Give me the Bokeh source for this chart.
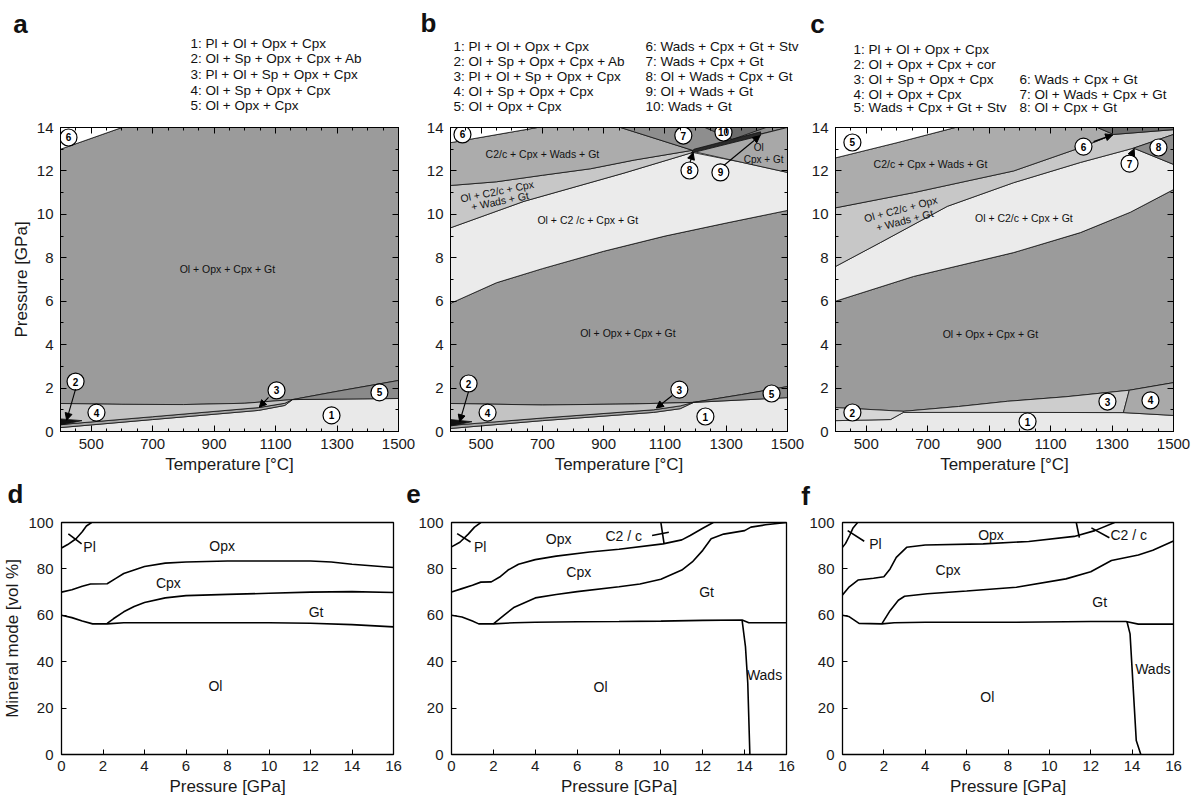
from bokeh.plotting import figure
from bokeh.layouts import column, row
from bokeh.models import Arrow, NormalHead, FixedTicker, LinearAxis, CustomJSTickFormatter, Range1d
from bokeh.embed import file_html
from bokeh.resources import INLINE
from bokeh.core.properties import value

FONT = "Liberation Sans"

# ---------------- tick definitions ----------------
T_TICKS = [500, 700, 900, 1100, 1300, 1500]
T_MINOR = list(range(400, 1501, 50))
P_TICKS = [0, 2, 4, 6, 8, 10, 12, 14]
P_MINOR = list(range(0, 15))
GPA_TICKS = [0, 2, 4, 6, 8, 10, 12, 14, 16]
VOL_TICKS = [0, 20, 40, 60, 80, 100]

# ---------------- panel a boundaries (T [°C], P [GPa]) ----------------
A_L1_T = [400, 700, 1044, 1130, 1155, 1500]
A_L1_P = [0.18, 0.55, 0.97, 1.2, 1.47, 1.52]
A_L3_T = [400, 700, 1044, 1130, 1155]
A_L3_P = [0.32, 0.68, 1.1, 1.3, 1.47]
A_L4_T = [400, 600, 800, 1000, 1155]
A_L4_P = [1.29, 1.25, 1.24, 1.3, 1.47]
A_L5_T = [1155, 1300, 1500]
A_L5_P = [1.47, 1.85, 2.35]
A_L6_T = [400, 600]
A_L6_P = [13.0, 14.0]
A_R2_T = [400, 470, 400]
A_R2_P = [0.3, 0.5, 0.58]

# ---------------- panel b boundaries ----------------
B_L1_T = [400, 700, 1063, 1150, 1193, 1500]
B_L1_P = [0.14, 0.5, 0.88, 1.05, 1.34, 1.56]
B_L3_T = [400, 700, 1063, 1150, 1193]
B_L3_P = [0.28, 0.62, 1.0, 1.18, 1.34]
B_L4_T = [400, 700, 1000, 1193]
B_L4_P = [1.29, 1.22, 1.27, 1.34]
B_L5_T = [1193, 1350, 1500]
B_L5_P = [1.34, 1.7, 2.07]
B_R2_T = [400, 470, 400]
B_R2_P = [0.25, 0.45, 0.55]
B_MAIN_TOP_T = [400, 550, 700, 900, 1100, 1300, 1500]
B_MAIN_TOP_P = [5.9, 6.85, 7.5, 8.3, 9.0, 9.6, 10.18]
B_LIGHT_TOP_T = [400, 640, 966, 1190]
B_LIGHT_TOP_P = [9.38, 10.6, 11.9, 12.85]
B_LIGHT_R_T = [1190, 1350, 1500]
B_LIGHT_R_P = [12.85, 12.4, 11.93]
B_BAND_TOP_T = [400, 550, 700, 857, 1000, 1190]
B_BAND_TOP_P = [11.33, 11.5, 11.8, 12.1, 12.5, 12.95]
B_WHITE_T = [400, 684]
B_WHITE_P = [13.3, 14.0]
B_R7_T = [955, 1190, 1500]
B_R7_P = [14.0, 12.95, 14.0]
B_R10_T = [1230, 1320, 1430]
B_R10_P = [14.0, 13.45, 14.0]
B_R8_T = [1185, 1412, 1412, 1195]
B_R8_P = [12.82, 13.62, 13.8, 13.0]
B_OCG_T = [1190, 1500, 1500]
B_OCG_P = [12.9, 14.0, 11.93]

# ---------------- panel c boundaries ----------------
C_L1_T = [400, 579, 621, 1000, 1337, 1500]
C_L1_P = [0.5, 0.55, 0.88, 0.88, 0.87, 0.74]
C_MAIN_BOT_T = [400, 621, 800, 959, 1150, 1356, 1500]
C_MAIN_BOT_P = [1.1, 0.93, 1.15, 1.39, 1.6, 1.9, 2.25]
C_MAIN_TOP_T = [400, 654, 980, 1197, 1360, 1500]
C_MAIN_TOP_P = [6.0, 7.14, 8.24, 9.16, 10.1, 11.14]
C_LIGHT_TOP_T = [400, 546, 764, 980, 1197, 1370]
C_LIGHT_TOP_P = [7.6, 8.7, 10.37, 11.46, 12.39, 13.05]
C_BAND_TOP_T = [400, 654, 980, 1197, 1305]
C_BAND_TOP_P = [10.3, 11.0, 12.0, 13.07, 13.68]
C_WHITE_T = [400, 600, 790]
C_WHITE_P = [12.6, 13.3, 14.0]
C_DARK_T = [1252, 1305, 1500, 1500]
C_DARK_P = [14.0, 13.68, 13.9, 14.0]
C_R8_T = [1370, 1500, 1500]
C_R8_P = [13.05, 13.68, 12.3]

# ---------------- modes (P [GPa], vol %) ----------------
D_OL_P = [0, 0.5, 1.0, 1.5, 2.2, 3, 4, 6, 8, 10, 12, 14, 16]
D_OL_V = [60, 59, 57.5, 56.3, 56.3, 56.8, 56.8, 56.8, 56.8, 56.8, 56.6, 56, 55]
D_GT_P = [2.2, 2.5, 3, 3.5, 4, 5, 6, 8, 10, 12, 14, 16]
D_GT_V = [56.5, 58.5, 61.5, 63.8, 65.5, 67.5, 68.5, 69, 69.5, 70, 70.2, 69.8]
D_CPX_P = [0, 0.5, 1.0, 1.4, 2.2, 2.6, 3, 4, 5, 6, 8, 10, 12, 13, 14, 16]
D_CPX_V = [70, 71, 72.5, 73.5, 73.6, 75.8, 78, 81, 82.5, 83, 83.4, 83.4, 83.4, 83, 82, 80.6]
D_PL_P = [0, 0.3, 0.7, 1.0, 1.2, 1.45]
D_PL_V = [89, 90.5, 93, 96, 98.5, 100]

E_OL_P = [0, 0.5, 1.0, 1.3, 2.0, 3, 4, 6, 8, 10, 12, 13.88, 14.2, 16]
E_OL_V = [60, 59.3, 57.5, 56.3, 56.3, 56.8, 57, 57.2, 57.3, 57.5, 57.8, 58, 56.8, 56.8]
E_WADS_P = [13.88, 14.04, 14.15, 14.25]
E_WADS_V = [57.8, 46.5, 30.8, 0]
E_GT_P = [2.0, 2.5, 3, 4, 5, 6, 8, 9, 10, 11, 11.5, 12, 12.4, 13, 14, 14.3, 15, 16]
E_GT_V = [56.3, 60, 63.5, 67.5, 69, 70.2, 72.3, 73.5, 75.5, 79.5, 83, 88, 93, 95, 96.5, 98, 99, 100]
E_CPX_P = [0, 0.5, 1.0, 1.4, 1.9, 2.3, 2.7, 3.2, 4, 5, 6.6, 8, 10.1, 11, 11.4, 12, 12.5]
E_CPX_V = [70, 71.5, 73, 74.3, 74.4, 76.5, 79.5, 82, 84, 85.5, 87.3, 88.5, 90.8, 92.5, 94.4, 97.5, 100]
E_PL_P = [0, 0.4, 0.8, 1.1, 1.4]
E_PL_V = [89.5, 91.5, 95, 98, 100]
E_C2C_P = [10.0, 10.15]
E_C2C_V = [100, 91]

F_OL_P = [0, 0.3, 0.8, 1.9, 2.5, 4, 8, 12, 13.7, 14.3, 16]
F_OL_V = [60, 59.5, 56.5, 56.3, 56.8, 57, 57, 57.3, 57.3, 56.2, 56.2]
F_WADS_P = [13.75, 13.9, 14.2, 14.42]
F_WADS_V = [57.3, 52, 6, 0]
F_GT_P = [1.9, 2.3, 2.7, 3.0, 4.1, 6, 8.4, 10.8, 12, 13, 14.3, 15, 16]
F_GT_V = [56.3, 62, 66.5, 68.2, 69.3, 70.5, 72.1, 75.7, 78.8, 83.6, 86, 88, 92]
F_CPX_P = [0, 0.3, 0.75, 1.5, 2.0, 2.3, 2.6, 3.1, 4, 6.8, 9, 11.2, 12.2, 13.15]
F_CPX_V = [68.8, 72, 75.2, 76, 76.6, 80, 85, 89.3, 90.3, 90.8, 91.8, 94, 96.5, 100]
F_PL_P = [0, 0.15, 0.35, 0.5, 0.73]
F_PL_V = [89.3, 91, 94.5, 97.5, 100]
F_C2C_P = [11.3, 11.45]
F_C2C_V = [100, 93.5]

# ---------------- legends ----------------
LEG_A = ["1:  Pl + Ol + Opx + Cpx", "2:  Ol + Sp + Opx + Cpx + Ab", "3:  Pl + Ol + Sp + Opx + Cpx",
         "4:  Ol + Sp + Opx + Cpx", "5:  Ol + Opx + Cpx"]
LEG_B2 = ["6:  Wads + Cpx + Gt + Stv", "7:  Wads + Cpx + Gt", "8:  Ol + Wads + Cpx + Gt",
          "9:  Ol + Wads + Gt", "10:  Wads + Gt"]
LEG_C1 = ["1:  Pl + Ol + Opx + Cpx", "2:  Ol + Opx + Cpx + cor", "3:  Ol + Sp + Opx + Cpx",
          "4:  Ol + Opx + Cpx", "5:  Wads + Cpx + Gt + Stv"]
LEG_C2 = ["6:  Wads + Cpx + Gt", "7:  Ol + Wads + Cpx + Gt", "8:  Ol + Cpx + Gt"]
PANEL_TOP = ["a", "b", "c"]
PANEL_BOT = ["d", "e", "f"]

# colours
C_MAIN = "#9b9b9b"
C_L1 = "#e9e9e9"
C_R3 = "#a6a6a6"
C_R4 = "#c3c3c3"
C_R5 = "#8a8a8a"
C_LIGHT = "#ebebeb"
C_BAND = "#c7c7c7"
C_C2 = "#acacac"
C_R7 = "#8e8e8e"
C_R10 = "#6c6c6c"
EDGE = "#111111"

W = 1193
H_HEAD1 = 115
H_HEAD2 = 30


def rv(a):
    return list(a)[::-1]


def patch(p, xs, ys, color, lw=0.8):
    p.patch(xs, ys, fill_color=color, line_color=EDGE, line_width=lw)


def style_axis(ax, fs, tin=6, minin=3, standoff=7):
    ax.axis_line_color = "black"
    ax.major_tick_line_color = "black"
    ax.minor_tick_line_color = "black"
    ax.major_tick_in = tin
    ax.major_tick_out = 0
    ax.minor_tick_in = minin
    ax.minor_tick_out = 0
    ax.major_label_text_font = FONT
    ax.major_label_text_font_size = fs
    ax.major_label_text_color = "#1a1a1a"
    ax.major_label_standoff = standoff
    ax.axis_label_text_font = FONT
    ax.axis_label_text_font_size = "17px"
    ax.axis_label_text_font_style = "normal"
    ax.axis_label_text_color = "#1a1a1a"
    ax.axis_label_standoff = 3


def mk_header(height):
    p = figure(width=W, height=height, x_range=Range1d(0, W), y_range=Range1d(height, 0),
               x_axis_type=None, y_axis_type=None, output_backend="svg", toolbar_location=None,
               tools="", title=None, min_border=0, min_border_left=0, min_border_right=0,
               min_border_top=0, min_border_bottom=0)
    p.grid.visible = False
    p.outline_line_color = None
    return p


def head_text(p, xs, ys, texts, size="13.5px", bold=False, align="left"):
    p.text(xs, ys, text=texts, text_font=value(FONT), text_font_size=size,
           text_font_style="bold" if bold else "normal", text_align=align,
           text_baseline="middle", text_color="#111111")


def mk_top(width, bl, br, ylabel=None):
    p = figure(width=width, height=480 - H_HEAD1, x_range=(400, 1500), y_range=(0, 14),
               min_border_left=bl, min_border_right=br, min_border_top=127 - H_HEAD1,
               min_border_bottom=49,
               output_backend="svg", toolbar_location=None, tools="", title=None)
    p.grid.visible = False
    p.outline_line_color = "black"
    p.outline_line_width = 1
    p.xaxis.ticker = FixedTicker(ticks=T_TICKS, minor_ticks=T_MINOR)
    p.yaxis.ticker = FixedTicker(ticks=P_TICKS, minor_ticks=P_MINOR)
    style_axis(p.xaxis[0], "15px")
    style_axis(p.yaxis[0], "15px")
    p.xaxis.axis_label = "Temperature [°C]"
    if ylabel:
        p.yaxis.axis_label = ylabel
    top = LinearAxis(ticker=FixedTicker(ticks=T_TICKS, minor_ticks=T_MINOR),
                     formatter=CustomJSTickFormatter(code="return ''"))
    style_axis(top, "0px", standoff=0)
    p.add_layout(top, "above")
    right = LinearAxis(ticker=FixedTicker(ticks=P_TICKS, minor_ticks=P_MINOR),
                       formatter=CustomJSTickFormatter(code="return ''"))
    style_axis(right, "0px", standoff=0)
    p.add_layout(right, "right")
    return p


def mk_bot(width, bl, br, ylabel=None):
    p = figure(width=width, height=323 - H_HEAD2, x_range=(0, 16), y_range=(0, 100),
               min_border_left=bl, min_border_right=br, min_border_top=42 - H_HEAD2,
               min_border_bottom=49,
               output_backend="svg", toolbar_location=None, tools="", title=None)
    p.grid.visible = False
    p.outline_line_color = "black"
    p.outline_line_width = 1.3
    p.xaxis.ticker = FixedTicker(ticks=GPA_TICKS, minor_ticks=[])
    p.yaxis.ticker = FixedTicker(ticks=VOL_TICKS, minor_ticks=[])
    style_axis(p.xaxis[0], "15px", tin=5, minin=0, standoff=6)
    style_axis(p.yaxis[0], "15px", tin=5, minin=0, standoff=8)
    p.xaxis.axis_label = "Pressure [GPa]"
    if ylabel:
        p.yaxis.axis_label = ylabel
    return p


def circles(p, xs, ys, labels, size=17):
    p.scatter(xs, ys, marker="circle", size=size, fill_color="white", line_color="black", line_width=1.2)
    p.text(xs, ys, text=labels, text_font=value(FONT), text_font_size="10px", text_font_style="bold",
           text_align="center", text_baseline="middle", text_color="black")


def arrow(p, x0, y0, x1, y1):
    p.add_layout(Arrow(end=NormalHead(size=7, fill_color="black", line_color="black", line_width=1),
                       x_start=x0, y_start=y0, x_end=x1, y_end=y1, line_width=1.1, line_color="black"))


def region_text(p, x, y, t, angle=0.0, size="10.5px"):
    p.text([x], [y], text=[t], angle=angle, text_font=value(FONT), text_font_size=size,
           text_align="center", text_baseline="middle", text_color="#111111")


# ======================= header (legends + panel letters a-c) =======================
h1 = mk_header(H_HEAD1)
head_text(h1, [20, 428, 817], [23, 22, 23], PANEL_TOP, size="26px", bold=True, align="center")
head_text(h1, [190] * 5, [43, 58, 74, 90, 105], LEG_A)
head_text(h1, [453] * 5, [46, 61, 76, 91, 106], LEG_A)
head_text(h1, [645] * 5, [46, 61, 76, 91, 106], LEG_B2)
head_text(h1, [853] * 5, [49, 64, 79, 94, 107], LEG_C1)
head_text(h1, [1019] * 3, [79, 94, 107], LEG_C2)

# ======================= panel a =======================
fa = mk_top(420, 60, 22, ylabel="Pressure [GPa]")
patch(fa, A_L4_T + A_L5_T[1:] + [1500] + rv(A_L6_T), A_L4_P + A_L5_P[1:] + [14] + rv(A_L6_P), C_MAIN)
patch(fa, A_L1_T + [1500, 400], A_L1_P + [0, 0], C_L1)
patch(fa, A_L3_T + rv(A_L1_T[:5]), A_L3_P + rv(A_L1_P[:5]), C_R3)
patch(fa, A_L4_T + rv(A_L3_T), A_L4_P + rv(A_L3_P), C_R4)
patch(fa, A_L5_T + rv(A_L1_T[4:]), A_L5_P + rv(A_L1_P[4:]), C_R5)
patch(fa, A_R2_T, A_R2_P, "#111111")
patch(fa, A_L6_T + [400], A_L6_P + [14], "white")
region_text(fa, 943, 7.5, "Ol + Opx + Cpx + Gt")
arrow(fa, 449, 1.95, 420, 0.52)
arrow(fa, 1077, 1.57, 1047, 1.12)
circles(fa, [426, 449, 517, 1103, 1438, 1282], [13.54, 2.3, 0.87, 1.89, 1.8, 0.74],
        ["6", "2", "4", "3", "5", "1"])

# ======================= panel b =======================
fb = mk_top(387, 30, 20)
patch(fb, B_L4_T + B_L5_T[1:] + rv(B_MAIN_TOP_T), B_L4_P + B_L5_P[1:] + rv(B_MAIN_TOP_P), C_MAIN)
patch(fb, B_L1_T + [1500, 400], B_L1_P + [0, 0], C_L1)
patch(fb, B_L3_T + rv(B_L1_T[:5]), B_L3_P + rv(B_L1_P[:5]), C_R3)
patch(fb, B_L4_T + rv(B_L3_T), B_L4_P + rv(B_L3_P), C_R4)
patch(fb, B_L5_T + rv(B_L1_T[4:]), B_L5_P + rv(B_L1_P[4:]), C_R5)
patch(fb, B_R2_T, B_R2_P, "#111111")
patch(fb, B_MAIN_TOP_T + rv(B_LIGHT_R_T) + rv(B_LIGHT_TOP_T[:-1]),
      B_MAIN_TOP_P + rv(B_LIGHT_R_P) + rv(B_LIGHT_TOP_P[:-1]), C_LIGHT)
patch(fb, B_LIGHT_TOP_T + rv(B_BAND_TOP_T), B_LIGHT_TOP_P + rv(B_BAND_TOP_P), C_BAND)
patch(fb, B_BAND_TOP_T + [B_R7_T[0]] + rv(B_WHITE_T), B_BAND_TOP_P + [14.0] + rv(B_WHITE_P), C_C2)
patch(fb, B_WHITE_T + [400], B_WHITE_P + [14], "white")
patch(fb, B_R7_T, B_R7_P, C_R7)
patch(fb, B_R10_T, B_R10_P, C_R10)
patch(fb, B_OCG_T, B_OCG_P, "#a8a8a8")
patch(fb, B_R8_T, B_R8_P, "#2a2a2a")
region_text(fb, 700, 12.8, "C2/c + Cpx + Wads + Gt")
region_text(fb, 552, 11.07, "Ol + C2/c + Cpx", angle=0.2)
region_text(fb, 561, 10.62, "+ Wads + Gt", angle=0.2)
region_text(fb, 848, 9.72, "Ol + C2 /c + Cpx + Gt")
region_text(fb, 979, 4.54, "Ol + Opx + Cpx + Gt")
region_text(fb, 1406, 13.09, "Ol", size="10px")
region_text(fb, 1422, 12.51, "Cpx + Gt", size="10px")
arrow(fb, 459, 1.85, 430, 0.45)
arrow(fb, 1124, 1.66, 1072, 1.08)
arrow(fb, 1182, 12.4, 1192, 12.85)
arrow(fb, 1292, 12.25, 1410, 13.62)
circles(fb, [439, 1160, 1291, 1180, 1281, 459, 521, 1147, 1448, 1232],
        [13.68, 13.63, 13.77, 12.02, 11.93, 2.21, 0.87, 1.93, 1.75, 0.69],
        ["6", "7", "10", "8", "9", "2", "4", "3", "5", "1"])

# ======================= panel c =======================
fc = mk_top(386, 28, 20)
patch(fc, C_MAIN_BOT_T + rv(C_MAIN_TOP_T), C_MAIN_BOT_P + rv(C_MAIN_TOP_P), C_MAIN)
patch(fc, C_L1_T + [1500, 400], C_L1_P + [0, 0], C_L1)
patch(fc, C_L1_T[:3] + [C_MAIN_BOT_T[1], C_MAIN_BOT_T[0]],
      C_L1_P[:3] + [C_MAIN_BOT_P[1], C_MAIN_BOT_P[0]], "#d6d6d6")
patch(fc, C_L1_T[2:5] + rv(C_MAIN_BOT_T[1:6]), C_L1_P[2:5] + rv(C_MAIN_BOT_P[1:6]), "#cdcdcd")
patch(fc, C_L1_T[4:] + rv(C_MAIN_BOT_T[5:]), C_L1_P[4:] + rv(C_MAIN_BOT_P[5:]), "#a9a9a9")
patch(fc, C_MAIN_TOP_T + [1500] + rv(C_LIGHT_TOP_T), C_MAIN_TOP_P + [12.3] + rv(C_LIGHT_TOP_P), C_LIGHT)
patch(fc, C_LIGHT_TOP_T + [1500, 1500] + rv(C_BAND_TOP_T),
      C_LIGHT_TOP_P + [13.68, 13.9] + rv(C_BAND_TOP_P), C_BAND)
patch(fc, C_BAND_TOP_T + [C_DARK_T[0]] + rv(C_WHITE_T), C_BAND_TOP_P + [14.0] + rv(C_WHITE_P), C_C2)
patch(fc, C_WHITE_T + [400], C_WHITE_P + [14], "white")
patch(fc, C_DARK_T, C_DARK_P, C_R10)
patch(fc, C_R8_T, C_R8_P, "#8c8c8c")
region_text(fc, 709, 12.33, "C2/c + Cpx + Wads + Gt")
region_text(fc, 612, 10.25, "Ol + C2/c + Opx", angle=0.26)
region_text(fc, 625, 9.73, "+ Wads + Gt", angle=0.26)
region_text(fc, 1013, 9.84, "Ol + C2/c + Cpx + Gt")
region_text(fc, 904, 4.47, "Ol + Opx + Cpx + Gt")
arrow(fc, 1240, 13.35, 1302, 13.66)
arrow(fc, 1362, 12.7, 1372, 13.02)
circles(fc, [455, 1207, 1451, 1357, 455, 1285, 1425, 1025],
        [13.31, 13.12, 13.08, 12.34, 0.875, 1.38, 1.43, 0.46],
        ["5", "6", "8", "7", "2", "3", "4", "1"])

# ======================= header 2 (panel letters d-f) =======================
h2 = mk_header(H_HEAD2)
head_text(h2, [15, 413, 805], [13, 13, 15], PANEL_BOT, size="26px", bold=True, align="center")


# ======================= bottom panels =======================
def mode_lines(p, lines):
    for xs, ys in lines:
        p.line(xs, ys, line_color="black", line_width=1.6)


def mode_text(p, x, y, t, align="center"):
    p.text([x], [y], text=[t], text_font=value(FONT), text_font_size="14px",
           text_align=align, text_baseline="middle", text_color="#111111")


fd = mk_bot(415, 58, 22, ylabel="Mineral mode [vol %]")
mode_lines(fd, [(D_OL_P, D_OL_V), (D_GT_P, D_GT_V), (D_CPX_P, D_CPX_V), (D_PL_P, D_PL_V),
                ([0.33, 0.97], [95.1, 90.8])])
mode_text(fd, 7.74, 89.8, "Opx")
mode_text(fd, 5.15, 73.8, "Cpx")
mode_text(fd, 12.27, 61.6, "Gt")
mode_text(fd, 7.42, 29.4, "Ol")
mode_text(fd, 1.05, 89.6, "Pl", align="left")

fe = mk_bot(391, 36, 20)
mode_lines(fe, [(E_OL_P, E_OL_V), (E_WADS_P, E_WADS_V), (E_GT_P, E_GT_V), (E_CPX_P, E_CPX_V),
                (E_PL_P, E_PL_V), (E_C2C_P, E_C2C_V), ([0.27, 0.91], [95.2, 91.6]),
                ([9.58, 10.38], [94.4, 95.8])])
mode_text(fe, 5.12, 93, "Opx")
mode_text(fe, 6.08, 78.7, "Cpx")
mode_text(fe, 12.18, 70, "Gt")
mode_text(fe, 7.12, 28.9, "Ol")
mode_text(fe, 14.95, 34.3, "Wads")
mode_text(fe, 1.07, 89.5, "Pl", align="left")
mode_text(fe, 9.1, 94.2, "C2 / c", align="right")

ff = mk_bot(387, 32, 20)
mode_lines(ff, [(F_OL_P, F_OL_V), (F_WADS_P, F_WADS_V), (F_GT_P, F_GT_V), (F_CPX_P, F_CPX_V),
                (F_PL_P, F_PL_V), (F_C2C_P, F_C2C_V), ([0.25, 1.05], [96.5, 91.9]),
                ([12.03, 12.9], [97.7, 93.4])])
mode_text(ff, 7.18, 94.4, "Opx")
mode_text(ff, 5.1, 79.7, "Cpx")
mode_text(ff, 12.43, 65.6, "Gt")
mode_text(ff, 7.0, 25, "Ol")
mode_text(ff, 15.0, 37, "Wads")
mode_text(ff, 1.29, 90.6, "Pl", align="left")
mode_text(ff, 12.95, 94.4, "C2 / c", align="left")

layout = column(h1, row(fa, fb, fc), h2, row(fd, fe, ff))
open("out.html", "w").write(file_html(layout, INLINE))
